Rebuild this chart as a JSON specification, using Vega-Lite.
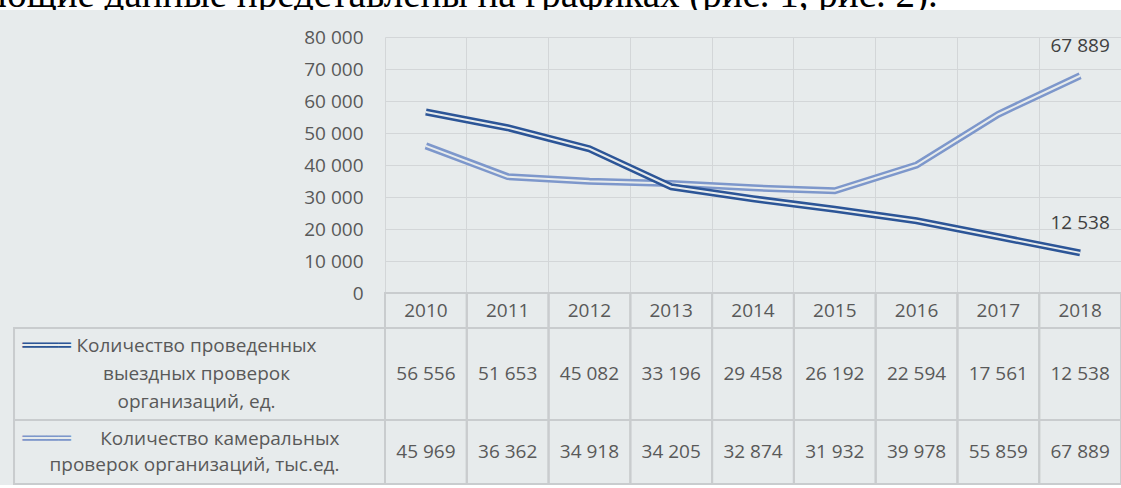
{
  "$schema": "https://vega.github.io/schema/vega-lite/v6.json",
  "background": "#e7ebec",
  "padding": 0,
  "spacing": 27,
  "bounds": "flush",
  "config": {
    "view": {"stroke": null},
    "locale": {"number": {"decimal": ",", "thousands": " ", "grouping": [3], "currency": ["", ""]}},
    "axis": {"labelFont": "Open Sans", "labelFontSize": 19, "labelColor": "#595959"}
  },
  "datasets": {
    "vals": [
      {"year": "2010", "series": "Количество проведенных выездных проверок организаций, ед.", "value": 56556},
      {"year": "2011", "series": "Количество проведенных выездных проверок организаций, ед.", "value": 51653},
      {"year": "2012", "series": "Количество проведенных выездных проверок организаций, ед.", "value": 45082},
      {"year": "2013", "series": "Количество проведенных выездных проверок организаций, ед.", "value": 33196},
      {"year": "2014", "series": "Количество проведенных выездных проверок организаций, ед.", "value": 29458},
      {"year": "2015", "series": "Количество проведенных выездных проверок организаций, ед.", "value": 26192},
      {"year": "2016", "series": "Количество проведенных выездных проверок организаций, ед.", "value": 22594},
      {"year": "2017", "series": "Количество проведенных выездных проверок организаций, ед.", "value": 17561},
      {"year": "2018", "series": "Количество проведенных выездных проверок организаций, ед.", "value": 12538},
      {"year": "2010", "series": "Количество камеральных проверок организаций, тыс.ед.", "value": 45969},
      {"year": "2011", "series": "Количество камеральных проверок организаций, тыс.ед.", "value": 36362},
      {"year": "2012", "series": "Количество камеральных проверок организаций, тыс.ед.", "value": 34918},
      {"year": "2013", "series": "Количество камеральных проверок организаций, тыс.ед.", "value": 34205},
      {"year": "2014", "series": "Количество камеральных проверок организаций, тыс.ед.", "value": 32874},
      {"year": "2015", "series": "Количество камеральных проверок организаций, тыс.ед.", "value": 31932},
      {"year": "2016", "series": "Количество камеральных проверок организаций, тыс.ед.", "value": 39978},
      {"year": "2017", "series": "Количество камеральных проверок организаций, тыс.ед.", "value": 55859},
      {"year": "2018", "series": "Количество камеральных проверок организаций, тыс.ед.", "value": 67889}
    ],
    "rows": [
      {"series": "Количество проведенных выездных проверок организаций, ед.", "label": ["Количество проведенных", "выездных проверок", "организаций, ед."]},
      {"series": "Количество камеральных проверок организаций, тыс.ед.", "label": ["Количество камеральных", "проверок организаций, тыс.ед."]}
    ]
  },
  "vconcat": [
    {
      "width": 1121,
      "height": 10,
      "view": {"fill": "white", "stroke": null},
      "data": {"values": [{"t": "ющие данные представлены на графиках (рис. 1, рис. 2)."}]},
      "mark": {"type": "text", "clip": true, "font": "Liberation Serif", "fontSize": 39, "color": "black", "align": "left", "baseline": "alphabetic", "dx": -563, "dy": 2},
      "encoding": {"text": {"field": "t"}}
    },
    {
      "columns": 2,
      "spacing": 0,
      "bounds": "flush",
      "concat": [
        {
          "width": 385, "height": 256,
          "data": {"values": [{}]},
          "mark": {"type": "text"},
          "encoding": {"text": {"value": ""}}
        },
        {
          "width": 736, "height": 256,
          "data": {"name": "vals"},
          "encoding": {
            "x": {"field": "year", "type": "ordinal", "scale": {"type": "band", "paddingInner": 0, "paddingOuter": 0},
                  "axis": {"title": null, "labels": false, "ticks": false, "domain": false, "grid": true, "bandPosition": 0, "gridColor": "#d3d6d8", "gridWidth": 1}},
            "y": {"field": "value", "type": "quantitative", "scale": {"domain": [0, 80000], "nice": false},
                  "axis": {"title": null, "values": [0, 10000, 20000, 30000, 40000, 50000, 60000, 70000, 80000], "format": ",d", "grid": true, "gridColor": "#d3d6d8", "domain": false, "ticks": false, "labelPadding": 22}}
          },
          "layer": [
            {
              "transform": [{"filter": {"field": "series", "equal": "Количество камеральных проверок организаций, тыс.ед."}}],
              "mark": {"type": "line", "strokeWidth": 7, "strokeCap": "butt", "color": "#7d97cb"}
            },
            {
              "transform": [{"filter": {"field": "series", "equal": "Количество камеральных проверок организаций, тыс.ед."}}],
              "mark": {"type": "line", "strokeWidth": 2, "strokeCap": "butt", "color": "#e7ebec"}
            },
            {
              "transform": [{"filter": {"field": "series", "equal": "Количество проведенных выездных проверок организаций, ед."}}],
              "mark": {"type": "line", "strokeWidth": 7, "strokeCap": "butt", "color": "#2c5597"}
            },
            {
              "transform": [{"filter": {"field": "series", "equal": "Количество проведенных выездных проверок организаций, ед."}}],
              "mark": {"type": "line", "strokeWidth": 2, "strokeCap": "butt", "color": "#e7ebec"}
            },
            {
              "transform": [{"filter": {"field": "year", "equal": "2018"}}],
              "mark": {"type": "text", "font": "Open Sans", "fontSize": 19, "color": "#404040", "dy": -30, "baseline": "middle"},
              "encoding": {"text": {"field": "value", "type": "quantitative", "format": ",d"}}
            }
          ]
        },
        {
          "width": 385, "height": 35,
          "data": {"values": [{}]},
          "mark": {"type": "text"},
          "encoding": {"text": {"value": ""}}
        },
        {
          "width": 736, "height": 35,
          "data": {"name": "vals"},
          "transform": [{"filter": {"field": "series", "equal": "Количество проведенных выездных проверок организаций, ед."}}],
          "encoding": {
            "x": {"field": "year", "type": "ordinal", "scale": {"type": "band", "paddingInner": 0, "paddingOuter": 0}, "axis": null},
            "y": {"datum": "h", "type": "nominal", "scale": {"type": "band", "paddingInner": 0, "paddingOuter": 0}, "axis": null}
          },
          "layer": [
            {"mark": {"type": "rect", "filled": false, "stroke": "#c9ccce", "strokeWidth": 2}},
            {"mark": {"type": "text", "font": "Open Sans", "fontSize": 19, "color": "#595959", "baseline": "middle"},
             "encoding": {"text": {"field": "year", "type": "nominal"}}}
          ]
        },
        {
          "width": 385, "height": 92,
          "data": {"name": "rows"},
          "transform": [{"filter": {"field": "series", "equal": "Количество проведенных выездных проверок организаций, ед."}}],
          "encoding": {
            "x": {"datum": "c", "type": "nominal", "scale": {"type": "band", "paddingInner": 0, "paddingOuter": 0.0189, "align": 1}, "axis": null},
            "y": {"datum": "r", "type": "nominal", "scale": {"type": "band", "paddingInner": 0, "paddingOuter": 0}, "axis": null}
          },
          "layer": [
            {"mark": {"type": "rect", "filled": false, "stroke": "#c9ccce", "strokeWidth": 2}},
            {"mark": {"type": "text", "font": "DejaVu Sans", "fontSize": 20, "color": "#2c5597", "align": "left", "baseline": "middle", "dx": -177, "dy": -28},
             "encoding": {"text": {"value": "════"}}},
            {"mark": {"type": "text", "font": "Open Sans", "fontSize": 19, "color": "#595959", "align": "center", "baseline": "middle", "lineHeight": 28, "dx": -3, "dy": -28},
             "encoding": {"text": {"field": "label"}}}
          ]
        },
        {
          "width": 736, "height": 92,
          "data": {"name": "vals"},
          "transform": [{"filter": {"field": "series", "equal": "Количество проведенных выездных проверок организаций, ед."}}],
          "encoding": {
            "x": {"field": "year", "type": "ordinal", "scale": {"type": "band", "paddingInner": 0, "paddingOuter": 0}, "axis": null},
            "y": {"datum": "r", "type": "nominal", "scale": {"type": "band", "paddingInner": 0, "paddingOuter": 0}, "axis": null}
          },
          "layer": [
            {"mark": {"type": "rect", "filled": false, "stroke": "#c9ccce", "strokeWidth": 2}},
            {"mark": {"type": "text", "font": "Open Sans", "fontSize": 19, "color": "#595959", "baseline": "middle"},
             "encoding": {"text": {"field": "value", "type": "quantitative", "format": ",d"}}}
          ]
        },
        {
          "width": 385, "height": 64,
          "data": {"name": "rows"},
          "transform": [{"filter": {"field": "series", "equal": "Количество камеральных проверок организаций, тыс.ед."}}],
          "encoding": {
            "x": {"datum": "c", "type": "nominal", "scale": {"type": "band", "paddingInner": 0, "paddingOuter": 0.0189, "align": 1}, "axis": null},
            "y": {"datum": "r", "type": "nominal", "scale": {"type": "band", "paddingInner": 0, "paddingOuter": 0}, "axis": null}
          },
          "layer": [
            {"mark": {"type": "rect", "filled": false, "stroke": "#c9ccce", "strokeWidth": 2}},
            {"mark": {"type": "text", "font": "DejaVu Sans", "fontSize": 20, "color": "#7d97cb", "align": "left", "baseline": "middle", "dx": -177, "dy": -13},
             "encoding": {"text": {"value": "════"}}},
            {"mark": {"type": "text", "font": "Open Sans", "fontSize": 19, "color": "#595959", "align": "right", "baseline": "middle", "lineHeight": 26, "dx": 140, "dy": -13},
             "encoding": {"text": {"field": "label"}}}
          ]
        },
        {
          "width": 736, "height": 64,
          "data": {"name": "vals"},
          "transform": [{"filter": {"field": "series", "equal": "Количество камеральных проверок организаций, тыс.ед."}}],
          "encoding": {
            "x": {"field": "year", "type": "ordinal", "scale": {"type": "band", "paddingInner": 0, "paddingOuter": 0}, "axis": null},
            "y": {"datum": "r", "type": "nominal", "scale": {"type": "band", "paddingInner": 0, "paddingOuter": 0}, "axis": null}
          },
          "layer": [
            {"mark": {"type": "rect", "filled": false, "stroke": "#c9ccce", "strokeWidth": 2}},
            {"mark": {"type": "text", "font": "Open Sans", "fontSize": 19, "color": "#595959", "baseline": "middle"},
             "encoding": {"text": {"field": "value", "type": "quantitative", "format": ",d"}}}
          ]
        }
      ]
    }
  ]
}
